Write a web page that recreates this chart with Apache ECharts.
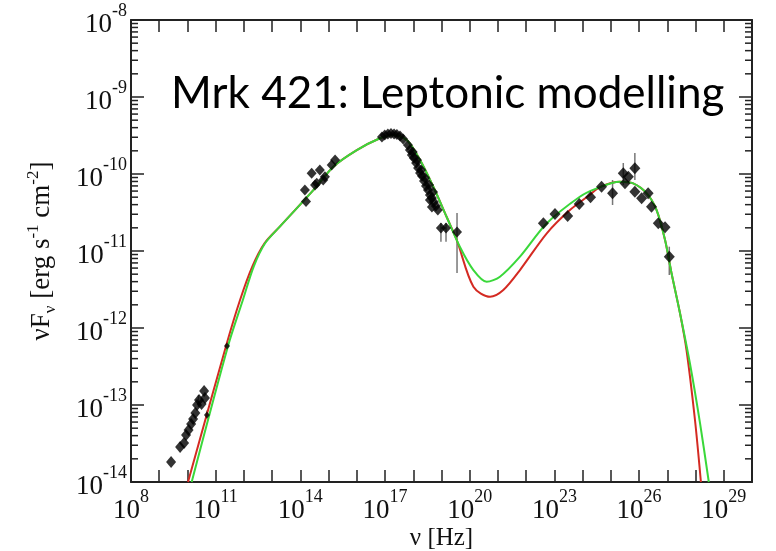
<!DOCTYPE html>
<html>
<head>
<meta charset="utf-8">
<script src="https://cdn.jsdelivr.net/npm/echarts@6/dist/echarts.min.js"></script>
<style>html,body{margin:0;padding:0;background:#fff}#c{width:776px;height:551px}</style>
</head>
<body>
<div id="c"></div>
<script>
// log10(nu [Hz]), log10(nuF_nu [erg s^-1 cm^-2])
const greenModel = [
  [10.15,-14.00],[11.44,-12.23],[11.96,-11.64],[12.35,-11.20],[12.75,-10.90],[13.28,-10.68],
  [14.46,-10.21],[15.17,-9.905],[16.00,-9.69],[16.82,-9.536],[17.29,-9.494],[17.77,-9.558],
  [18.24,-9.818],[18.71,-10.165],[19.18,-10.555],[19.65,-10.944],[20.13,-11.247],[20.60,-11.399],
  [21.07,-11.334],[21.78,-11.074],[22.73,-10.640],[23.90,-10.295],[24.50,-10.186],[25.32,-10.100],
  [25.79,-10.121],[26.27,-10.251],[26.62,-10.468],[26.92,-10.857],[27.15,-11.290],[27.45,-11.809],
  [27.80,-12.458],[28.16,-13.238],[28.47,-14.00]
];
const redModel = [
  [10.02,-14.00],[11.37,-12.23],[11.86,-11.64],[12.30,-11.20],[12.73,-10.90],[13.28,-10.68],
  [14.46,-10.21],[15.17,-9.905],[16.00,-9.69],[16.82,-9.536],[17.29,-9.494],[17.77,-9.558],
  [18.24,-9.818],[18.71,-10.165],[19.18,-10.555],[19.54,-10.857],[20.13,-11.464],[20.72,-11.594],
  [21.19,-11.506],[21.78,-11.247],[22.73,-10.770],[23.55,-10.468],[24.26,-10.27],[24.61,-10.17],
  [25.32,-10.100],[25.79,-10.121],[26.27,-10.251],[26.62,-10.468],[26.92,-10.857],[27.15,-11.290],
  [27.45,-11.809],[27.68,-12.286],[27.98,-13.195],[28.19,-14.00]
];
const radioPoints = [
  [9.42,-13.740],[9.74,-13.545],[9.88,-13.494],[9.95,-13.390],[10.04,-13.325],[10.13,-13.247],
  [10.20,-13.182],[10.28,-13.104],[10.34,-13.000],[10.41,-12.935],[10.50,-12.987],[10.59,-12.818],
  [10.62,-12.909]
];
const smallPoints = [[10.69,-13.130],[11.40,-12.234]];
const opticalPoints = [
  [14.20,-10.357],[14.16,-10.208],[14.40,-9.991],[14.58,-10.121],[14.69,-9.948],[14.81,-10.078],
  [14.87,-10.035],[15.11,-9.883],[15.23,-9.818],[14.52,-10.143]
];
const xrayPoints = [
  [16.89,-9.519],[16.99,-9.494],[17.10,-9.481],[17.21,-9.474],[17.32,-9.481],[17.42,-9.487],
  [17.53,-9.506],[17.64,-9.545],[17.81,-9.623],[17.88,-9.688],[17.95,-9.753],[18.02,-9.792],
  [18.10,-9.857],[18.17,-9.922],[18.24,-9.987],[18.31,-10.026],[18.38,-10.091],[18.45,-10.156],
  [18.52,-10.208],[18.59,-10.273],[18.66,-10.312],[18.73,-10.364],[18.80,-10.416],[18.87,-10.468],
  [17.98,-9.714],[18.13,-9.818],[18.28,-9.948],[18.42,-10.052],[18.56,-10.143],[18.70,-10.234],
  [18.59,-10.338],[18.66,-10.429],[18.98,-10.701],[19.16,-10.701],[19.55,-10.753]
];
const gammaPoints = [
  [22.61,-10.640],[23.02,-10.519],[23.47,-10.545],[23.88,-10.390],[24.28,-10.303],[24.67,-10.165],
  [25.06,-10.251],[25.44,-9.991],[25.50,-10.121],[25.62,-10.035],[25.85,-9.926],[25.85,-10.230],
  [26.09,-10.316],[26.32,-10.251],[26.44,-10.425],[26.68,-10.640],[26.92,-10.692],[27.07,-11.074]
];
// [log nu, low, high]
const errorBars = [
  [10.39,-12.87,-13.03],[10.69,-13.07,-13.18],
  [18.98,-10.636,-10.879],[19.16,-10.636,-10.879],[19.55,-10.506,-11.286],
  [25.06,-10.078,-10.403],[25.44,-9.857,-10.143],[25.85,-9.727,-10.078],[27.07,-10.944,-11.312]
];
const xRange = [8, 30];
const yRange = [-14, -8];
const titleText = 'Mrk 421: Leptonic modelling';

const yMinor = [];
for (let n = yRange[0]; n < yRange[1]; n++) {
  for (let k = 2; k <= 9; k++) yMinor.push([xRange[0], n + Math.log10(k)]);
}

const serif = '"Liberation Serif", "Times New Roman", serif';
const labelRich = {
  b: {fontFamily: serif, fontSize: 27, lineHeight: 36, verticalAlign: 'bottom', color: '#111'},
  s: {fontFamily: serif, fontSize: 18, lineHeight: 18, verticalAlign: 'top', color: '#111'}
};
const axisLineStyle = {lineStyle: {color: '#222', width: 2}};

const chart = echarts.init(document.getElementById('c'));
chart.setOption({
  animation: false,
  backgroundColor: '#fff',
  title: {
    text: titleText, left: 166, top: 67,
    textStyle: {fontFamily: 'Lato, "Open Sans", sans-serif', fontSize: 44, fontWeight: 'normal', color: '#000'}
  },
  grid: {left: 131, right: 24, top: 20, bottom: 69, containLabel: false, outerBoundsMode: 'none'},
  xAxis: [{
    type: 'value', min: xRange[0], max: xRange[1], interval: 1, position: 'bottom',
    axisLine: axisLineStyle,
    axisTick: {inside: true, length: 12, lineStyle: {color: '#222', width: 1.5}},
    splitLine: {show: false},
    axisLabel: {
      margin: 6, rich: labelRich,
      formatter: v => ((v - 8) % 3 === 0 ? '{b|10}{s|' + v + '}' : '')
    },
    name: 'ν [Hz]', nameLocation: 'middle', nameGap: 44, nameMoveOverlap: false,
    nameTextStyle: {fontFamily: serif, fontSize: 25, color: '#111'}
  }, {
    type: 'value', min: xRange[0], max: xRange[1], interval: 1, position: 'top',
    axisLine: axisLineStyle,
    axisTick: {inside: true, length: 12, lineStyle: {color: '#222', width: 1.5}},
    axisLabel: {show: false}, splitLine: {show: false}
  }],
  yAxis: [{
    type: 'value', min: yRange[0], max: yRange[1], interval: 1, position: 'left',
    axisLine: axisLineStyle,
    axisTick: {inside: true, length: 13, lineStyle: {color: '#222', width: 1.5}},
    splitLine: {show: false},
    axisLabel: {margin: 4, rich: labelRich, formatter: v => '{b|10}{s|' + v + '}'},
    name: '{m|νF}{sub|ν}{m| [erg s}{sup|-1}{m| cm}{sup|-2}{m|]}',
    nameLocation: 'middle', nameRotate: 90, nameGap: 72, nameMoveOverlap: false,
    nameTextStyle: {
      rich: {
        m: {fontFamily: serif, fontSize: 27, lineHeight: 34, verticalAlign: 'middle', color: '#111'},
        sub: {fontFamily: serif, fontSize: 17, lineHeight: 17, verticalAlign: 'bottom', color: '#111'},
        sup: {fontFamily: serif, fontSize: 17, lineHeight: 17, verticalAlign: 'top', color: '#111'}
      }
    }
  }, {
    type: 'value', min: yRange[0], max: yRange[1], interval: 1, position: 'right',
    axisLine: axisLineStyle,
    axisTick: {inside: true, length: 13, lineStyle: {color: '#222', width: 1.5}},
    axisLabel: {show: false}, splitLine: {show: false}
  }],
  series: [
    {
      type: 'custom', silent: true, data: yMinor, encode: {x: 0, y: 1}, clip: false, z: 1,
      renderItem: (params, api) => {
        const cs = params.coordSys;
        const y = api.coord([api.value(0), api.value(1)])[1];
        const st = {stroke: '#222', lineWidth: 1.5};
        return {type: 'group', children: [
          {type: 'line', shape: {x1: cs.x, y1: y, x2: cs.x + 7, y2: y}, style: st},
          {type: 'line', shape: {x1: cs.x + cs.width - 7, y1: y, x2: cs.x + cs.width, y2: y}, style: st}
        ]};
      }
    },
    {
      type: 'custom', silent: true, data: errorBars, encode: {x: 0, y: [1, 2]}, z: 2,
      renderItem: (params, api) => {
        const a = api.coord([api.value(0), api.value(1)]);
        const b = api.coord([api.value(0), api.value(2)]);
        return {type: 'line', shape: {x1: a[0], y1: a[1], x2: b[0], y2: b[1]},
          style: {stroke: '#777', lineWidth: 1.5}};
      }
    },
    {type: 'line', data: redModel, smooth: 0.3, showSymbol: false,
      lineStyle: {color: '#d42a22', width: 2}, z: 3, silent: true},
    {type: 'line', data: greenModel, smooth: 0.3, showSymbol: false,
      lineStyle: {color: '#3ad83a', width: 2}, z: 4, silent: true},
    {type: 'scatter', data: radioPoints, symbol: 'diamond', symbolSize: [10, 12],
      itemStyle: {color: '#000'}, z: 5},
    {type: 'scatter', data: smallPoints, symbol: 'diamond', symbolSize: [6, 7],
      itemStyle: {color: '#000'}, z: 5},
    {type: 'scatter', data: opticalPoints, symbol: 'diamond', symbolSize: [10, 11],
      itemStyle: {color: '#000'}, z: 5},
    {type: 'scatter', data: xrayPoints, symbol: 'diamond', symbolSize: [10, 11],
      itemStyle: {color: '#000'}, z: 5},
    {type: 'scatter', data: gammaPoints, symbol: 'diamond', symbolSize: [11, 12],
      itemStyle: {color: '#000'}, z: 5}
  ]
});
</script>
</body>
</html>
